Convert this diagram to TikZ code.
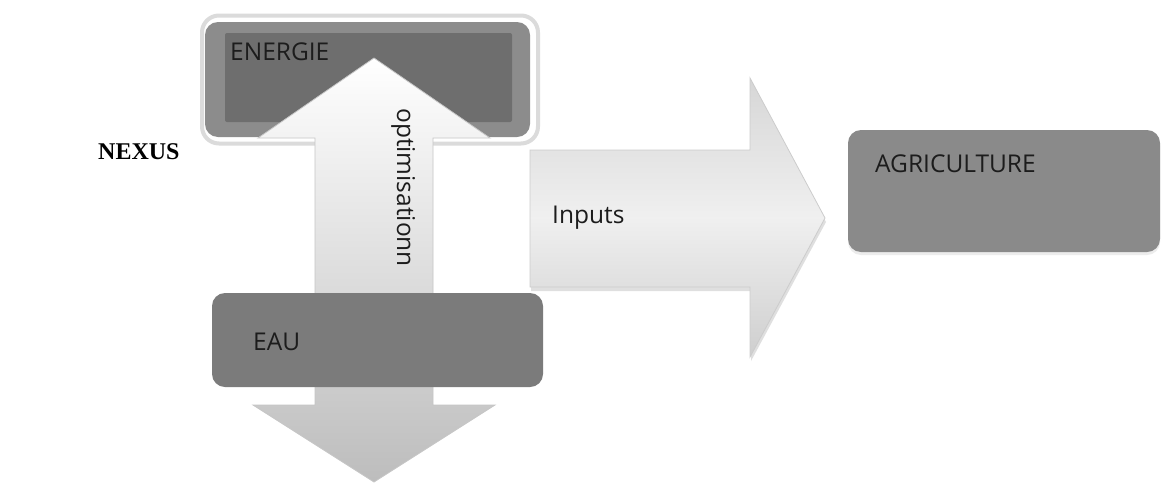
\documentclass[tikz,border=0pt]{standalone}
\usepackage{fontspec}
\setmainfont{Liberation Serif}
\newfontfamily\uifont{Open Sans}
\usetikzlibrary{shadows}
\definecolor{framegray}{HTML}{8C8C8C}
\definecolor{innergray}{HTML}{6E6E6E}
\definecolor{eaugray}{HTML}{7B7B7B}
\definecolor{agrigray}{HTML}{8A8A8A}
\definecolor{txt}{HTML}{1C1C1C}
\tikzset{
  boxshape/.style={inner sep=0pt, outer sep=0pt, rounded corners=13pt},
  label/.style={inner sep=0pt, text=txt, font=\uifont\fontsize{24.5}{28}\selectfont},
  bigarrow/.style={draw=gray!45, line width=0.8pt},
}
\begin{document}
\begin{tikzpicture}[x=1pt,y=-1pt]
\useasboundingbox[fill=white] (0,0) rectangle (1161,485);

% NEXUS
\node[inner sep=0pt, anchor=base west, font=\bfseries\fontsize{24}{28}\selectfont] (nexus) at (98,159) {NEXUS};

% ENERGIE box
\node[boxshape, rounded corners=17pt, fill=white, draw=gray!28, line width=4pt,
      minimum width=336pt, minimum height=128pt] (ring) at (370,79.5) {};
\node[boxshape, fill=framegray, minimum width=325pt, minimum height=115pt] (energie) at (367.5,79.5) {};
\node[boxshape, rounded corners=2pt, fill=innergray, minimum width=287pt, minimum height=89pt] (energieIn) at (368.5,77.5) {};
\node[label, anchor=base west] (energieTxt) at (230,60) {ENERGIE};

% right arrow (Inputs)
\coordinate (rA) at (530,150);
\coordinate (rTip) at (825,218);
\path[bigarrow, draw=gray!40, top color=gray!32, bottom color=gray!38, middle color=gray!12,
      drop shadow={opacity=0.25, shadow xshift=1pt, shadow yshift=-4pt}]
  (rA) -- (750,150) -- (750,78) -- (rTip) -- (750,357) -- (750,287) -- (530,287) -- cycle;
\node[label, anchor=base west] (inputs) at (552,223) {Inputs};

% double vertical arrow (optimisation)
\coordinate (upTip) at (374,58);
\coordinate (downTip) at (374,482);
\path[bigarrow, top color=white, middle color=gray!10, bottom color=gray!52]
  (315,138) -- (258,138) -- (upTip) -- (490,138) -- (433,138) -- (433,405) -- (495,405)
  -- (downTip) -- (253,405) -- (315,405) -- cycle;
\node[label, rotate=-90, anchor=base west] (optim) at (397,108) {optimisationn};

% EAU box
\node[boxshape, fill=eaugray, minimum width=331pt, minimum height=94pt] (eau) at (377.5,340) {};
\node[label, anchor=base west] (eauTxt) at (253,350) {EAU};

% AGRICULTURE box
\node[boxshape, fill=agrigray, minimum width=312pt, minimum height=122pt,
      drop shadow={opacity=0.15, shadow xshift=0pt, shadow yshift=-3pt}] (agri) at (1004,191) {};
\node[label, anchor=base west] (agriTxt) at (875,172) {AGRICULTURE};
\end{tikzpicture}
\end{document}
